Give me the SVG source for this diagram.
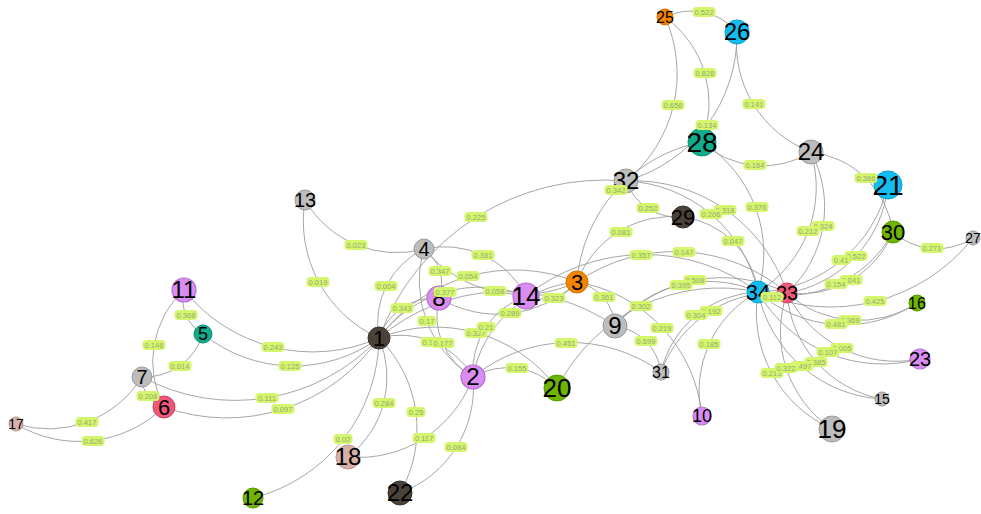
<svg xmlns="http://www.w3.org/2000/svg" width="981" height="514" viewBox="0 0 981 514">
<style>
.e{fill:none;stroke:#9c9c9c;stroke-width:0.9}
.lb rect{fill:#d4f66c}
.lb text{font-family:"Liberation Sans",Arial,sans-serif;font-size:7.5px;fill:#98a678;text-anchor:middle}
.n text{font-family:"Liberation Sans",Arial,sans-serif;text-anchor:middle;fill:#000}
.dk{fill:#4a4139;stroke:#3a322c;stroke-width:1}
.vi{fill:#d98df2;stroke:#b56fd0;stroke-width:1.2}
.og{fill:#f38400;stroke:#d07000;stroke-width:1}
.gy{fill:#bdbdbd;stroke:#9a9a9a;stroke-width:1}
.te{fill:#11ac8c;stroke:#0d8f73;stroke-width:1}
.rd{fill:#f0587a;stroke:#d04060;stroke-width:1}
.gn{fill:#6db500;stroke:#5a9800;stroke-width:1}
.pk{fill:#d6b1a9;stroke:#b99890;stroke-width:1}
.cy{fill:#14bdf0;stroke:#0aa0d0;stroke-width:1}
</style>
<g id="connectors">
<path class="e" d="M379 338 A83.5 83.5 0 0 1 473 377"/>
<path class="e" d="M379 338 A168.7 168.7 0 0 1 577 282"/>
<path class="e" d="M379 338 A81.8 81.8 0 0 1 424 249"/>
<path class="e" d="M379 338 A144.3 144.3 0 0 1 203 334"/>
<path class="e" d="M379 338 A185.2 185.2 0 0 1 164 407"/>
<path class="e" d="M379 338 A197 197 0 0 1 142 377"/>
<path class="e" d="M379 338 A59.1 59.1 0 0 1 439 298"/>
<path class="e" d="M379 338 A193.8 193.8 0 0 1 615 326"/>
<path class="e" d="M379 338 A164.7 164.7 0 0 1 184 290"/>
<path class="e" d="M379 338 A167 167 0 0 1 253 498"/>
<path class="e" d="M379 338 A128.4 128.4 0 0 1 305 200"/>
<path class="e" d="M379 338 A125.4 125.4 0 0 1 526 296"/>
<path class="e" d="M379 338 A100.8 100.8 0 0 1 348 457"/>
<path class="e" d="M379 338 A151.6 151.6 0 0 1 557 388"/>
<path class="e" d="M379 338 A128.3 128.3 0 0 1 400 493"/>
<path class="e" d="M379 338 A240 240 0 0 1 626 181"/>
<path class="e" d="M473 377 A115.5 115.5 0 0 1 577 282"/>
<path class="e" d="M473 377 A112.4 112.4 0 0 1 424 249"/>
<path class="e" d="M473 377 A70.5 70.5 0 0 1 439 298"/>
<path class="e" d="M473 377 A79.4 79.4 0 0 1 526 296"/>
<path class="e" d="M473 377 A121.7 121.7 0 0 1 348 457"/>
<path class="e" d="M473 377 A69.5 69.5 0 0 1 557 388"/>
<path class="e" d="M473 377 A112.4 112.4 0 0 1 400 493"/>
<path class="e" d="M473 377 A154.2 154.2 0 0 1 661 372"/>
<path class="e" d="M577 282 A128.3 128.3 0 0 1 424 249"/>
<path class="e" d="M577 282 A113.9 113.9 0 0 1 439 298"/>
<path class="e" d="M577 282 A47.7 47.7 0 0 1 615 326"/>
<path class="e" d="M577 282 A150.3 150.3 0 0 1 702 416"/>
<path class="e" d="M577 282 A43.4 43.4 0 0 1 526 296"/>
<path class="e" d="M577 282 A153.9 153.9 0 0 1 702 142"/>
<path class="e" d="M577 282 A102 102 0 0 1 683 217"/>
<path class="e" d="M577 282 A172.4 172.4 0 0 1 787 293"/>
<path class="e" d="M424 249 A42 42 0 0 1 439 298"/>
<path class="e" d="M424 249 A105.5 105.5 0 0 1 305 200"/>
<path class="e" d="M424 249 A92.1 92.1 0 0 1 526 296"/>
<path class="e" d="M203 334 A61.2 61.2 0 0 1 142 377"/>
<path class="e" d="M203 334 A39.3 39.3 0 0 1 184 290"/>
<path class="e" d="M164 407 A30.5 30.5 0 0 1 142 377"/>
<path class="e" d="M164 407 A97.3 97.3 0 0 1 184 290"/>
<path class="e" d="M164 407 A122.2 122.2 0 0 1 16 424"/>
<path class="e" d="M142 377 A110.3 110.3 0 0 1 16 424"/>
<path class="e" d="M615 326 A53.3 53.3 0 0 1 661 372"/>
<path class="e" d="M615 326 A143.6 143.6 0 0 1 787 293"/>
<path class="e" d="M615 326 A120.5 120.5 0 0 1 758 292"/>
<path class="e" d="M702 416 A111.6 111.6 0 0 1 758 292"/>
<path class="e" d="M526 296 A190.3 190.3 0 0 1 758 292"/>
<path class="e" d="M882 399 A116.7 116.7 0 0 1 787 293"/>
<path class="e" d="M882 399 A134.3 134.3 0 0 1 758 292"/>
<path class="e" d="M917 303 A106.9 106.9 0 0 1 787 293"/>
<path class="e" d="M917 303 A130.7 130.7 0 0 1 758 292"/>
<path class="e" d="M832 429 A117.5 117.5 0 0 1 787 293"/>
<path class="e" d="M832 429 A127.7 127.7 0 0 1 758 292"/>
<path class="e" d="M557 388 A182.7 182.7 0 0 1 758 292"/>
<path class="e" d="M888 185 A121.3 121.3 0 0 1 787 293"/>
<path class="e" d="M888 185 A138.1 138.1 0 0 1 758 292"/>
<path class="e" d="M920 359 A121.8 121.8 0 0 1 787 293"/>
<path class="e" d="M920 359 A143.7 143.7 0 0 1 758 292"/>
<path class="e" d="M811 152 A115.6 115.6 0 0 1 737 32"/>
<path class="e" d="M811 152 A89.8 89.8 0 0 1 702 142"/>
<path class="e" d="M811 152 A94 94 0 0 1 893 232"/>
<path class="e" d="M811 152 A117.3 117.3 0 0 1 787 293"/>
<path class="e" d="M811 152 A122.8 122.8 0 0 1 758 292"/>
<path class="e" d="M665 17 A60.3 60.3 0 0 1 737 32"/>
<path class="e" d="M665 17 A106.9 106.9 0 0 1 702 142"/>
<path class="e" d="M665 17 A138.2 138.2 0 0 1 626 181"/>
<path class="e" d="M737 32 A152.4 152.4 0 0 1 626 181"/>
<path class="e" d="M973 238 A65.8 65.8 0 0 1 893 232"/>
<path class="e" d="M973 238 A181.8 181.8 0 0 1 758 292"/>
<path class="e" d="M702 142 A131.3 131.3 0 0 1 758 292"/>
<path class="e" d="M683 217 A55.3 55.3 0 0 1 626 181"/>
<path class="e" d="M683 217 A87 87 0 0 1 758 292"/>
<path class="e" d="M893 232 A100.3 100.3 0 0 1 787 293"/>
<path class="e" d="M893 232 A121.1 121.1 0 0 1 758 292"/>
<path class="e" d="M661 372 A121.9 121.9 0 0 1 787 293"/>
<path class="e" d="M661 372 A103.1 103.1 0 0 1 758 292"/>
<path class="e" d="M626 181 A160.8 160.8 0 0 1 787 293"/>
<path class="e" d="M626 181 A141.4 141.4 0 0 1 758 292"/>
<path class="e" d="M787 293 A23.8 23.8 0 0 1 758 292"/>
</g>
<g id="nodes" class="n">
<g id="n1"><circle class="dk" cx="379" cy="338" r="11"/><text x="379" y="345.7" font-size="22">1</text></g>
<g id="n2"><circle class="vi" cx="473" cy="377" r="12" stroke-width="1.6"/><text x="473" y="385.4" font-size="24">2</text></g>
<g id="n3"><circle class="og" cx="577" cy="282" r="11"/><text x="577" y="289.7" font-size="22">3</text></g>
<g id="n4"><circle class="gy" cx="424" cy="249" r="10"/><text x="424" y="256" font-size="20">4</text></g>
<g id="n5"><circle class="te" cx="203" cy="334" r="9"/><text x="203" y="340.3" font-size="18">5</text></g>
<g id="n6"><circle class="rd" cx="164" cy="407" r="11"/><text x="164" y="414.7" font-size="22">6</text></g>
<g id="n7"><circle class="gy" cx="142" cy="377" r="10"/><text x="142" y="384" font-size="20">7</text></g>
<g id="n8"><circle class="vi" cx="439" cy="298" r="12" stroke="#a65cc0" stroke-width="2.5"/><text x="439" y="306.4" font-size="24">8</text></g>
<g id="n9"><circle class="gy" cx="615" cy="326" r="12" stroke="#888" stroke-width="2.5"/><text x="615" y="334.4" font-size="24">9</text></g>
<g id="n10"><circle class="vi" cx="702" cy="416" r="9"/><text x="702" y="422.3" font-size="18">10</text></g>
<g id="n11"><circle class="vi" cx="184" cy="290" r="12"/><text x="184" y="298.4" font-size="24">11</text></g>
<g id="n12"><circle class="gn" cx="253" cy="498" r="10"/><text x="253" y="505" font-size="20">12</text></g>
<g id="n13"><circle class="gy" cx="305" cy="200" r="10"/><text x="305" y="207" font-size="20">13</text></g>
<g id="n14"><circle class="vi" cx="526" cy="296" r="13"/><text x="526" y="305.1" font-size="26">14</text></g>
<g id="n15"><circle class="gy" cx="882" cy="399" r="7"/><text x="882" y="403.9" font-size="14">15</text></g>
<g id="n16"><circle class="gn" cx="917" cy="303" r="8"/><text x="917" y="308.6" font-size="16">16</text></g>
<g id="n17"><circle class="pk" cx="16" cy="424" r="7"/><text x="16" y="428.9" font-size="14">17</text></g>
<g id="n18"><circle class="pk" cx="348" cy="457" r="12"/><text x="348" y="465.4" font-size="24">18</text></g>
<g id="n19"><circle class="gy" cx="832" cy="429" r="13"/><text x="832" y="438.1" font-size="26">19</text></g>
<g id="n20"><circle class="gn" cx="557" cy="388" r="13"/><text x="557" y="397.1" font-size="26">20</text></g>
<g id="n21"><circle class="cy" cx="888" cy="185" r="14"/><text x="888" y="194.8" font-size="28">21</text></g>
<g id="n22"><circle class="dk" cx="400" cy="493" r="12"/><text x="400" y="501.4" font-size="24">22</text></g>
<g id="n23"><circle class="vi" cx="920" cy="359" r="10"/><text x="920" y="366" font-size="20">23</text></g>
<g id="n24"><circle class="gy" cx="811" cy="152" r="12"/><text x="811" y="160.4" font-size="24">24</text></g>
<g id="n25"><circle class="og" cx="665" cy="17" r="8"/><text x="665" y="22.6" font-size="16">25</text></g>
<g id="n26"><circle class="cy" cx="737" cy="32" r="12"/><text x="737" y="40.4" font-size="24">26</text></g>
<g id="n27"><circle class="gy" cx="973" cy="238" r="7"/><text x="973" y="242.9" font-size="14">27</text></g>
<g id="n28"><circle class="te" cx="702" cy="142" r="14"/><text x="702" y="151.8" font-size="28">28</text></g>
<g id="n29"><circle class="dk" cx="683" cy="217" r="11"/><text x="683" y="224.7" font-size="22">29</text></g>
<g id="n30"><circle class="gn" cx="893" cy="232" r="11"/><text x="893" y="239.7" font-size="22">30</text></g>
<g id="n31"><circle class="gy" cx="661" cy="372" r="8"/><text x="661" y="377.6" font-size="16">31</text></g>
<g id="n32"><circle class="gy" cx="626" cy="181" r="12"/><text x="626" y="189.4" font-size="24">32</text></g>
<g id="n33"><circle class="rd" cx="787" cy="293" r="10"/><text x="787" y="300" font-size="20">33</text></g>
<g id="n34"><circle class="cy" cx="758" cy="292" r="11"/><text x="758" y="299.7" font-size="22">34</text></g>
</g>
<g id="edge-labels" class="lb">
<g transform="translate(432,342)"><rect x="-11.5" y="-5" width="23" height="10" rx="4"/><text y="2.6">0.136</text></g>
<g transform="translate(468,276)"><rect x="-11.5" y="-5" width="23" height="10" rx="4"/><text y="2.6">0.054</text></g>
<g transform="translate(386,286)"><rect x="-11.5" y="-5" width="23" height="10" rx="4"/><text y="2.6">0.004</text></g>
<g transform="translate(290,366)"><rect x="-11.5" y="-5" width="23" height="10" rx="4"/><text y="2.6">0.125</text></g>
<g transform="translate(283,409)"><rect x="-11.5" y="-5" width="23" height="10" rx="4"/><text y="2.6">0.097</text></g>
<g transform="translate(267,398)"><rect x="-11.5" y="-5" width="23" height="10" rx="4"/><text y="2.6">0.111</text></g>
<g transform="translate(402,308)"><rect x="-11.5" y="-5" width="23" height="10" rx="4"/><text y="2.6">0.343</text></g>
<g transform="translate(273,347)"><rect x="-11.5" y="-5" width="23" height="10" rx="4"/><text y="2.6">0.243</text></g>
<g transform="translate(343,439)"><rect x="-9.5" y="-5" width="19" height="10" rx="4"/><text y="2.6">0.02</text></g>
<g transform="translate(318,282)"><rect x="-11.5" y="-5" width="23" height="10" rx="4"/><text y="2.6">0.019</text></g>
<g transform="translate(445,292)"><rect x="-11.5" y="-5" width="23" height="10" rx="4"/><text y="2.6">0.377</text></g>
<g transform="translate(384,403)"><rect x="-11.5" y="-5" width="23" height="10" rx="4"/><text y="2.6">0.284</text></g>
<g transform="translate(476,333)"><rect x="-11.5" y="-5" width="23" height="10" rx="4"/><text y="2.6">0.327</text></g>
<g transform="translate(416,412)"><rect x="-9.5" y="-5" width="19" height="10" rx="4"/><text y="2.6">0.25</text></g>
<g transform="translate(476,217)"><rect x="-11.5" y="-5" width="23" height="10" rx="4"/><text y="2.6">0.225</text></g>
<g transform="translate(427,321)"><rect x="-9.5" y="-5" width="19" height="10" rx="4"/><text y="2.6">0.17</text></g>
<g transform="translate(443,343)"><rect x="-11.5" y="-5" width="23" height="10" rx="4"/><text y="2.6">0.177</text></g>
<g transform="translate(486,327)"><rect x="-9.5" y="-5" width="19" height="10" rx="4"/><text y="2.6">0.21</text></g>
<g transform="translate(424,438)"><rect x="-11.5" y="-5" width="23" height="10" rx="4"/><text y="2.6">0.117</text></g>
<g transform="translate(517,368)"><rect x="-11.5" y="-5" width="23" height="10" rx="4"/><text y="2.6">0.155</text></g>
<g transform="translate(456,447)"><rect x="-11.5" y="-5" width="23" height="10" rx="4"/><text y="2.6">0.084</text></g>
<g transform="translate(566,343)"><rect x="-11.5" y="-5" width="23" height="10" rx="4"/><text y="2.6">0.451</text></g>
<g transform="translate(495,291)"><rect x="-11.5" y="-5" width="23" height="10" rx="4"/><text y="2.6">0.058</text></g>
<g transform="translate(510,313)"><rect x="-11.5" y="-5" width="23" height="10" rx="4"/><text y="2.6">0.289</text></g>
<g transform="translate(604,297)"><rect x="-11.5" y="-5" width="23" height="10" rx="4"/><text y="2.6">0.361</text></g>
<g transform="translate(662,328)"><rect x="-11.5" y="-5" width="23" height="10" rx="4"/><text y="2.6">0.219</text></g>
<g transform="translate(554,298)"><rect x="-11.5" y="-5" width="23" height="10" rx="4"/><text y="2.6">0.323</text></g>
<g transform="translate(616,190)"><rect x="-11.5" y="-5" width="23" height="10" rx="4"/><text y="2.6">0.342</text></g>
<g transform="translate(621,232)"><rect x="-11.5" y="-5" width="23" height="10" rx="4"/><text y="2.6">0.081</text></g>
<g transform="translate(684,252)"><rect x="-11.5" y="-5" width="23" height="10" rx="4"/><text y="2.6">0.147</text></g>
<g transform="translate(440,271)"><rect x="-11.5" y="-5" width="23" height="10" rx="4"/><text y="2.6">0.347</text></g>
<g transform="translate(356,245)"><rect x="-11.5" y="-5" width="23" height="10" rx="4"/><text y="2.6">0.023</text></g>
<g transform="translate(483,255)"><rect x="-11.5" y="-5" width="23" height="10" rx="4"/><text y="2.6">0.381</text></g>
<g transform="translate(180,366)"><rect x="-11.5" y="-5" width="23" height="10" rx="4"/><text y="2.6">0.014</text></g>
<g transform="translate(186,315)"><rect x="-11.5" y="-5" width="23" height="10" rx="4"/><text y="2.6">0.368</text></g>
<g transform="translate(148,396)"><rect x="-11.5" y="-5" width="23" height="10" rx="4"/><text y="2.6">0.208</text></g>
<g transform="translate(154,345)"><rect x="-11.5" y="-5" width="23" height="10" rx="4"/><text y="2.6">0.146</text></g>
<g transform="translate(93,441)"><rect x="-11.5" y="-5" width="23" height="10" rx="4"/><text y="2.6">0.626</text></g>
<g transform="translate(87,422)"><rect x="-11.5" y="-5" width="23" height="10" rx="4"/><text y="2.6">0.417</text></g>
<g transform="translate(646,341)"><rect x="-11.5" y="-5" width="23" height="10" rx="4"/><text y="2.6">0.699</text></g>
<g transform="translate(695,280)"><rect x="-11.5" y="-5" width="23" height="10" rx="4"/><text y="2.6">0.508</text></g>
<g transform="translate(681,285)"><rect x="-11.5" y="-5" width="23" height="10" rx="4"/><text y="2.6">0.395</text></g>
<g transform="translate(709,344)"><rect x="-11.5" y="-5" width="23" height="10" rx="4"/><text y="2.6">0.185</text></g>
<g transform="translate(641,255)"><rect x="-11.5" y="-5" width="23" height="10" rx="4"/><text y="2.6">0.357</text></g>
<g transform="translate(816,362)"><rect x="-11.5" y="-5" width="23" height="10" rx="4"/><text y="2.6">0.385</text></g>
<g transform="translate(802,366)"><rect x="-11.5" y="-5" width="23" height="10" rx="4"/><text y="2.6">0.497</text></g>
<g transform="translate(850,320)"><rect x="-11.5" y="-5" width="23" height="10" rx="4"/><text y="2.6">0.369</text></g>
<g transform="translate(836,324)"><rect x="-11.5" y="-5" width="23" height="10" rx="4"/><text y="2.6">0.481</text></g>
<g transform="translate(772,373)"><rect x="-11.5" y="-5" width="23" height="10" rx="4"/><text y="2.6">0.213</text></g>
<g transform="translate(786,368)"><rect x="-11.5" y="-5" width="23" height="10" rx="4"/><text y="2.6">0.322</text></g>
<g transform="translate(641,306)"><rect x="-11.5" y="-5" width="23" height="10" rx="4"/><text y="2.6">0.302</text></g>
<g transform="translate(856,256)"><rect x="-11.5" y="-5" width="23" height="10" rx="4"/><text y="2.6">0.522</text></g>
<g transform="translate(841,260)"><rect x="-9.5" y="-5" width="19" height="10" rx="4"/><text y="2.6">0.41</text></g>
<g transform="translate(842,348)"><rect x="-11.5" y="-5" width="23" height="10" rx="4"/><text y="2.6">0.005</text></g>
<g transform="translate(828,352)"><rect x="-11.5" y="-5" width="23" height="10" rx="4"/><text y="2.6">0.107</text></g>
<g transform="translate(754,104)"><rect x="-11.5" y="-5" width="23" height="10" rx="4"/><text y="2.6">0.141</text></g>
<g transform="translate(755,165)"><rect x="-11.5" y="-5" width="23" height="10" rx="4"/><text y="2.6">0.164</text></g>
<g transform="translate(866,178)"><rect x="-11.5" y="-5" width="23" height="10" rx="4"/><text y="2.6">0.366</text></g>
<g transform="translate(823,226)"><rect x="-11.5" y="-5" width="23" height="10" rx="4"/><text y="2.6">0.324</text></g>
<g transform="translate(808,231)"><rect x="-11.5" y="-5" width="23" height="10" rx="4"/><text y="2.6">0.212</text></g>
<g transform="translate(704,12)"><rect x="-11.5" y="-5" width="23" height="10" rx="4"/><text y="2.6">0.522</text></g>
<g transform="translate(705,73)"><rect x="-11.5" y="-5" width="23" height="10" rx="4"/><text y="2.6">0.826</text></g>
<g transform="translate(673,105)"><rect x="-11.5" y="-5" width="23" height="10" rx="4"/><text y="2.6">0.656</text></g>
<g transform="translate(707,125)"><rect x="-11.5" y="-5" width="23" height="10" rx="4"/><text y="2.6">0.134</text></g>
<g transform="translate(932,248)"><rect x="-11.5" y="-5" width="23" height="10" rx="4"/><text y="2.6">0.271</text></g>
<g transform="translate(875,301)"><rect x="-11.5" y="-5" width="23" height="10" rx="4"/><text y="2.6">0.425</text></g>
<g transform="translate(757,207)"><rect x="-11.5" y="-5" width="23" height="10" rx="4"/><text y="2.6">0.376</text></g>
<g transform="translate(648,208)"><rect x="-11.5" y="-5" width="23" height="10" rx="4"/><text y="2.6">0.252</text></g>
<g transform="translate(733,241)"><rect x="-11.5" y="-5" width="23" height="10" rx="4"/><text y="2.6">0.047</text></g>
<g transform="translate(851,280)"><rect x="-11.5" y="-5" width="23" height="10" rx="4"/><text y="2.6">0.041</text></g>
<g transform="translate(836,284)"><rect x="-11.5" y="-5" width="23" height="10" rx="4"/><text y="2.6">0.154</text></g>
<g transform="translate(711,311)"><rect x="-11.5" y="-5" width="23" height="10" rx="4"/><text y="2.6">0.192</text></g>
<g transform="translate(696,315)"><rect x="-11.5" y="-5" width="23" height="10" rx="4"/><text y="2.6">0.304</text></g>
<g transform="translate(725,210)"><rect x="-11.5" y="-5" width="23" height="10" rx="4"/><text y="2.6">0.318</text></g>
<g transform="translate(711,214)"><rect x="-11.5" y="-5" width="23" height="10" rx="4"/><text y="2.6">0.206</text></g>
<g transform="translate(772,297)"><rect x="-11.5" y="-5" width="23" height="10" rx="4"/><text y="2.6">0.112</text></g>
</g>
</svg>
